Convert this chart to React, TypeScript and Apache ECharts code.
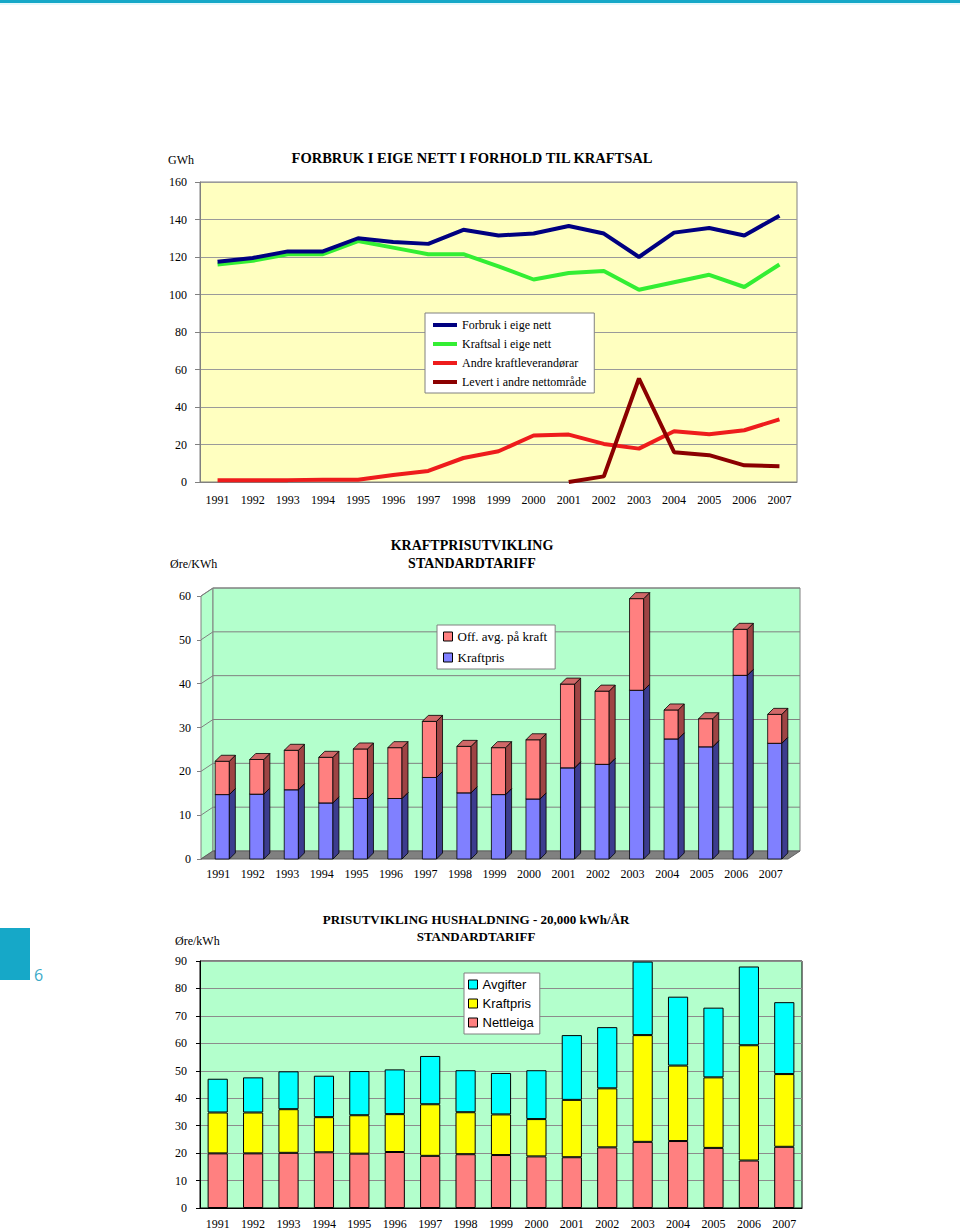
import React, { useEffect, useRef } from 'react';
import * as echarts from 'echarts';

const SERIF = '"Liberation Serif", "Times New Roman", serif';
const SANS = '"Liberation Sans", Arial, sans-serif';

const years = ['1991','1992','1993','1994','1995','1996','1997','1998','1999','2000','2001','2002','2003','2004','2005','2006','2007'];

// Chart 1 (GWh)
const forbruk = [117.5, 119.5, 123, 123, 130, 128, 127, 134.5, 131.5, 132.5, 136.5, 132.5, 120, 133, 135.5, 131.5, 142];
const kraftsal = [116, 118, 121.5, 121.5, 128.5, 125, 121.5, 121.5, 115, 108, 111.5, 112.5, 102.5, 106.5, 110.5, 104, 116];
const andre = [1, 1, 1, 1.2, 1.2, 3.7, 5.9, 12.8, 16.4, 24.8, 25.3, 20.3, 17.8, 27.1, 25.5, 27.6, 33.4];
const levert: (number | null)[] = [null, null, null, null, null, null, null, null, null, null, 0, 3, 55.2, 15.9, 14.3, 8.9, 8.4];

// Chart 2 (øre/kWh)
const kraftpris2 = [14.7, 14.8, 15.8, 12.8, 13.8, 13.8, 18.6, 15.1, 14.7, 13.7, 20.8, 21.6, 38.5, 27.4, 25.6, 41.9, 26.4];
const offAvg = [7.6, 7.9, 9.0, 10.4, 11.3, 11.6, 12.8, 10.6, 10.7, 13.5, 19.1, 16.7, 20.9, 6.6, 6.4, 10.5, 6.6];

// Chart 3 (øre/kWh)
const nettleiga = [19.9, 19.9, 20.1, 20.3, 19.8, 20.4, 19.0, 19.6, 19.3, 18.8, 18.5, 22.1, 24.1, 24.4, 21.9, 17.3, 22.3];
const kraftpris3 = [14.9, 14.9, 15.9, 12.8, 14.0, 13.8, 18.8, 15.3, 14.8, 13.6, 20.9, 21.5, 38.9, 27.5, 25.7, 42.0, 26.5];
const avgifter = [12.3, 12.8, 13.8, 15.1, 16.1, 16.3, 17.6, 15.3, 15.1, 17.8, 23.6, 22.3, 26.8, 25.1, 25.4, 28.7, 26.2];

const WALL_DX = 12;
const WALL_DY = 8;
const BAR_DX = 6;
const BAR_DY = 6;
const GREEN_BG = '#B3FFCC';

function blockRenderer(front: string, side: string, top: string) {
  return (params: any, api: any) => {
    const i = api.value(0);
    const v0 = api.value(1);
    const v1 = api.value(2);
    const p0 = api.coord([i, v0]);
    const p1 = api.coord([i, v1]);
    const band = api.size([1, 0])[0];
    const w = band * 0.41;
    const x0 = p0[0] - w / 2 + 4;
    const x1 = x0 + w;
    const yb = p0[1];
    const yt = p1[1];
    const st = { stroke: '#000', lineWidth: 0.8 };
    return {
      type: 'group',
      children: [
        { type: 'rect', shape: { x: x0, y: yt, width: w, height: yb - yt }, style: { fill: front, ...st } },
        { type: 'polygon', shape: { points: [[x1, yb], [x1 + BAR_DX, yb - BAR_DY], [x1 + BAR_DX, yt - BAR_DY], [x1, yt]] }, style: { fill: side, ...st } },
        { type: 'polygon', shape: { points: [[x0, yt], [x1, yt], [x1 + BAR_DX, yt - BAR_DY], [x0 + BAR_DX, yt - BAR_DY]] }, style: { fill: top, ...st } },
      ],
    };
  };
}

function wallsRenderer(params: any, api: any) {
  const cs = params.coordSys;
  const L = cs.x, R = cs.x + cs.width, T = cs.y, B = cs.y + cs.height;
  const grey = '#808080';
  const children: any[] = [];
  children.push({ type: 'polygon', shape: { points: [[L, T], [L + WALL_DX, T - WALL_DY], [L + WALL_DX, B - WALL_DY], [L, B]] }, style: { fill: GREEN_BG, stroke: grey, lineWidth: 1 } });
  children.push({ type: 'rect', shape: { x: L + WALL_DX, y: T - WALL_DY, width: R - L, height: B - T }, style: { fill: GREEN_BG, stroke: grey, lineWidth: 1 } });
  for (let t = 10; t <= 60; t += 10) {
    const y = api.coord([0, t])[1];
    children.push({ type: 'polyline', shape: { points: [[L, y], [L + WALL_DX, y - WALL_DY], [R + WALL_DX, y - WALL_DY]] }, style: { stroke: grey, lineWidth: 1, fill: null } });
  }
  children.push({ type: 'polygon', shape: { points: [[L, B], [R, B], [R + WALL_DX, B - WALL_DY], [L + WALL_DX, B - WALL_DY]] }, style: { fill: '#808080', stroke: '#606060', lineWidth: 1 } });
  return { type: 'group', children };
}

function txt(text: string, x: number, y: number, font: string, align = 'center', fill = '#000') {
  return { type: 'text', x, y, silent: true, style: { text, font, fill, align, verticalAlign: 'middle', textAlign: align, textVerticalAlign: 'middle' } };
}

const axisLabel = (margin: number) => ({ fontFamily: SERIF, fontSize: 12, color: '#000', margin });

const option: any = {
  animation: false,
  backgroundColor: '#fff',
  graphic: [
    { type: 'rect', shape: { x: 0, y: 0, width: 960, height: 3 }, style: { fill: '#16A8C8' } },
    { type: 'rect', shape: { x: 0, y: 3, width: 960, height: 2 }, style: { fill: '#E6F8FB' } },
    { type: 'rect', shape: { x: 0, y: 928, width: 30, height: 52 }, style: { fill: '#16A8C8' } },
    txt('6', 34, 975, '16px "Open Sans", sans-serif', 'left', '#3AAAC8'),
    txt('GWh', 168, 160, '12px ' + SERIF, 'left'),
    txt('FORBRUK I EIGE NETT I FORHOLD TIL KRAFTSAL', 472, 158, 'bold 14.5px ' + SERIF),
    txt('KRAFTPRISUTVIKLING', 472, 545, 'bold 14px ' + SERIF),
    txt('STANDARDTARIFF', 472, 563, 'bold 14px ' + SERIF),
    txt('Øre/KWh', 170, 564, '12px ' + SERIF, 'left'),
    txt('PRISUTVIKLING HUSHALDNING - 20,000 kWh/ÅR', 476, 919, 'bold 13px ' + SERIF),
    txt('STANDARDTARIFF', 476, 936, 'bold 13px ' + SERIF),
    txt('Øre/kWh', 175, 941, '12px ' + SERIF, 'left'),
  ],
  grid: [
    { left: 200, top: 182, width: 597, height: 300, show: true, backgroundColor: '#FFFFC0', borderColor: '#808080', borderWidth: 1 },
    { left: 201, top: 596, width: 587, height: 263, show: false },
    { left: 200, top: 961, width: 602, height: 247, show: true, backgroundColor: GREEN_BG, borderColor: '#000', borderWidth: 1 },
  ],
  xAxis: [
    { type: 'category', gridIndex: 0, data: years, boundaryGap: true,
      axisLine: { lineStyle: { color: '#808080' } }, axisTick: { length: 5, lineStyle: { color: '#808080' } }, axisLabel: axisLabel(12) },
    { type: 'category', gridIndex: 1, data: years, boundaryGap: true,
      axisLine: { show: false }, axisTick: { length: 4, lineStyle: { color: '#808080' } }, axisLabel: axisLabel(9) },
    { type: 'category', gridIndex: 2, data: years, boundaryGap: true,
      axisLine: { lineStyle: { color: '#000' } }, axisTick: { length: 4, lineStyle: { color: '#000' } }, axisLabel: axisLabel(10) },
  ],
  yAxis: [
    { type: 'value', gridIndex: 0, min: 0, max: 160, interval: 20,
      axisLine: { show: true, lineStyle: { color: '#808080' } }, axisTick: { show: true, length: 5, lineStyle: { color: '#808080' } },
      splitLine: { lineStyle: { color: '#9A9A9A' } }, axisLabel: axisLabel(13) },
    { type: 'value', gridIndex: 1, min: 0, max: 60, interval: 10,
      axisLine: { show: true, lineStyle: { color: '#808080' } }, axisTick: { show: true, length: 4, lineStyle: { color: '#808080' } },
      splitLine: { show: false }, axisLabel: axisLabel(10) },
    { type: 'value', gridIndex: 2, min: 0, max: 90, interval: 10,
      axisLine: { show: true, lineStyle: { color: '#000' } }, axisTick: { show: true, length: 4, lineStyle: { color: '#000' } },
      splitLine: { lineStyle: { color: '#8C8C8C' } }, axisLabel: axisLabel(13) },
  ],
  legend: [
    { left: 425, top: 313, orient: 'vertical', data: ['Forbruk i eige nett', 'Kraftsal i eige nett', 'Andre kraftleverandørar', 'Levert i andre nettområde'],
      icon: 'rect', backgroundColor: '#fff', borderColor: '#808080', borderWidth: 1, padding: [5, 8, 4, 8], itemWidth: 24, itemHeight: 4, itemGap: 5,
      textStyle: { fontFamily: SERIF, fontSize: 12, color: '#000', lineHeight: 14 }, selectedMode: false },
    { left: 437, top: 625, orient: 'vertical', data: ['Off. avg. på kraft', 'Kraftpris'], icon: 'rect',
      backgroundColor: '#fff', borderColor: '#808080', borderWidth: 1, padding: [4, 8, 4, 6], itemWidth: 9, itemHeight: 9, itemGap: 6,
      itemStyle: { borderColor: '#000', borderWidth: 1 },
      textStyle: { fontFamily: SERIF, fontSize: 13, color: '#000', lineHeight: 15 }, selectedMode: false },
    { left: 464, top: 973, orient: 'vertical', data: ['Avgifter', 'Kraftpris ', 'Nettleiga'], icon: 'rect',
      backgroundColor: '#fff', borderColor: '#808080', borderWidth: 1, padding: [4, 6, 4, 4], itemWidth: 9, itemHeight: 9, itemGap: 4,
      itemStyle: { borderColor: '#000', borderWidth: 1 }, formatter: (n: string) => n.trim(),
      textStyle: { fontFamily: SANS, fontSize: 13, color: '#000', lineHeight: 15 }, selectedMode: false },
  ],
  series: [
    { type: 'line', name: 'Forbruk i eige nett', xAxisIndex: 0, yAxisIndex: 0, data: forbruk, symbol: 'none', lineStyle: { width: 4, color: '#000080' }, itemStyle: { color: '#000080' }, z: 5 },
    { type: 'line', name: 'Kraftsal i eige nett', xAxisIndex: 0, yAxisIndex: 0, data: kraftsal, symbol: 'none', lineStyle: { width: 4, color: '#33EE33' }, itemStyle: { color: '#33EE33' }, z: 4 },
    { type: 'line', name: 'Andre kraftleverandørar', xAxisIndex: 0, yAxisIndex: 0, data: andre, symbol: 'none', lineStyle: { width: 4, color: '#EE1C1C' }, itemStyle: { color: '#EE1C1C' }, z: 3 },
    { type: 'line', name: 'Levert i andre nettområde', xAxisIndex: 0, yAxisIndex: 0, data: levert, symbol: 'none', lineStyle: { width: 4, color: '#8B0000' }, itemStyle: { color: '#8B0000' }, z: 6 },
    { type: 'custom', name: 'walls', xAxisIndex: 1, yAxisIndex: 1, data: [[0, 0]], renderItem: wallsRenderer, z: 1, silent: true, clip: false },
    { type: 'custom', name: 'Kraftpris', xAxisIndex: 1, yAxisIndex: 1, z: 2, clip: false,
      itemStyle: { color: '#8080FF' }, encode: { x: 0, y: [1, 2] },
      data: kraftpris2.map((v, i) => [i, 0, v]),
      renderItem: blockRenderer('#8080FF', '#3C3C8E', '#6060C8') },
    { type: 'custom', name: 'Off. avg. på kraft', xAxisIndex: 1, yAxisIndex: 1, z: 3, clip: false,
      itemStyle: { color: '#FF8080' }, encode: { x: 0, y: [1, 2] },
      data: offAvg.map((v, i) => [i, kraftpris2[i], kraftpris2[i] + v]),
      renderItem: blockRenderer('#FF8080', '#9E4444', '#D06868') },
    { type: 'bar', name: 'Nettleiga', xAxisIndex: 2, yAxisIndex: 2, stack: 'h', data: nettleiga, barWidth: '57%',
      itemStyle: { color: '#FF8080', borderColor: '#000', borderWidth: 1 } },
    { type: 'bar', name: 'Kraftpris ', xAxisIndex: 2, yAxisIndex: 2, stack: 'h', data: kraftpris3, barWidth: '57%',
      itemStyle: { color: '#FFFF00', borderColor: '#000', borderWidth: 1 } },
    { type: 'bar', name: 'Avgifter', xAxisIndex: 2, yAxisIndex: 2, stack: 'h', data: avgifter, barWidth: '57%',
      itemStyle: { color: '#00FFFF', borderColor: '#000', borderWidth: 1 } },
  ],
};

export default function App() {
  const ref = useRef<HTMLDivElement>(null);
  useEffect(() => {
    if (!ref.current) return;
    const chart = echarts.init(ref.current, null, { renderer: 'svg' });
    chart.setOption(option);
    return () => chart.dispose();
  }, []);
  return <div ref={ref} style={{ position: 'absolute', left: 0, top: 0, width: 960, height: 1230 }} />;
}
